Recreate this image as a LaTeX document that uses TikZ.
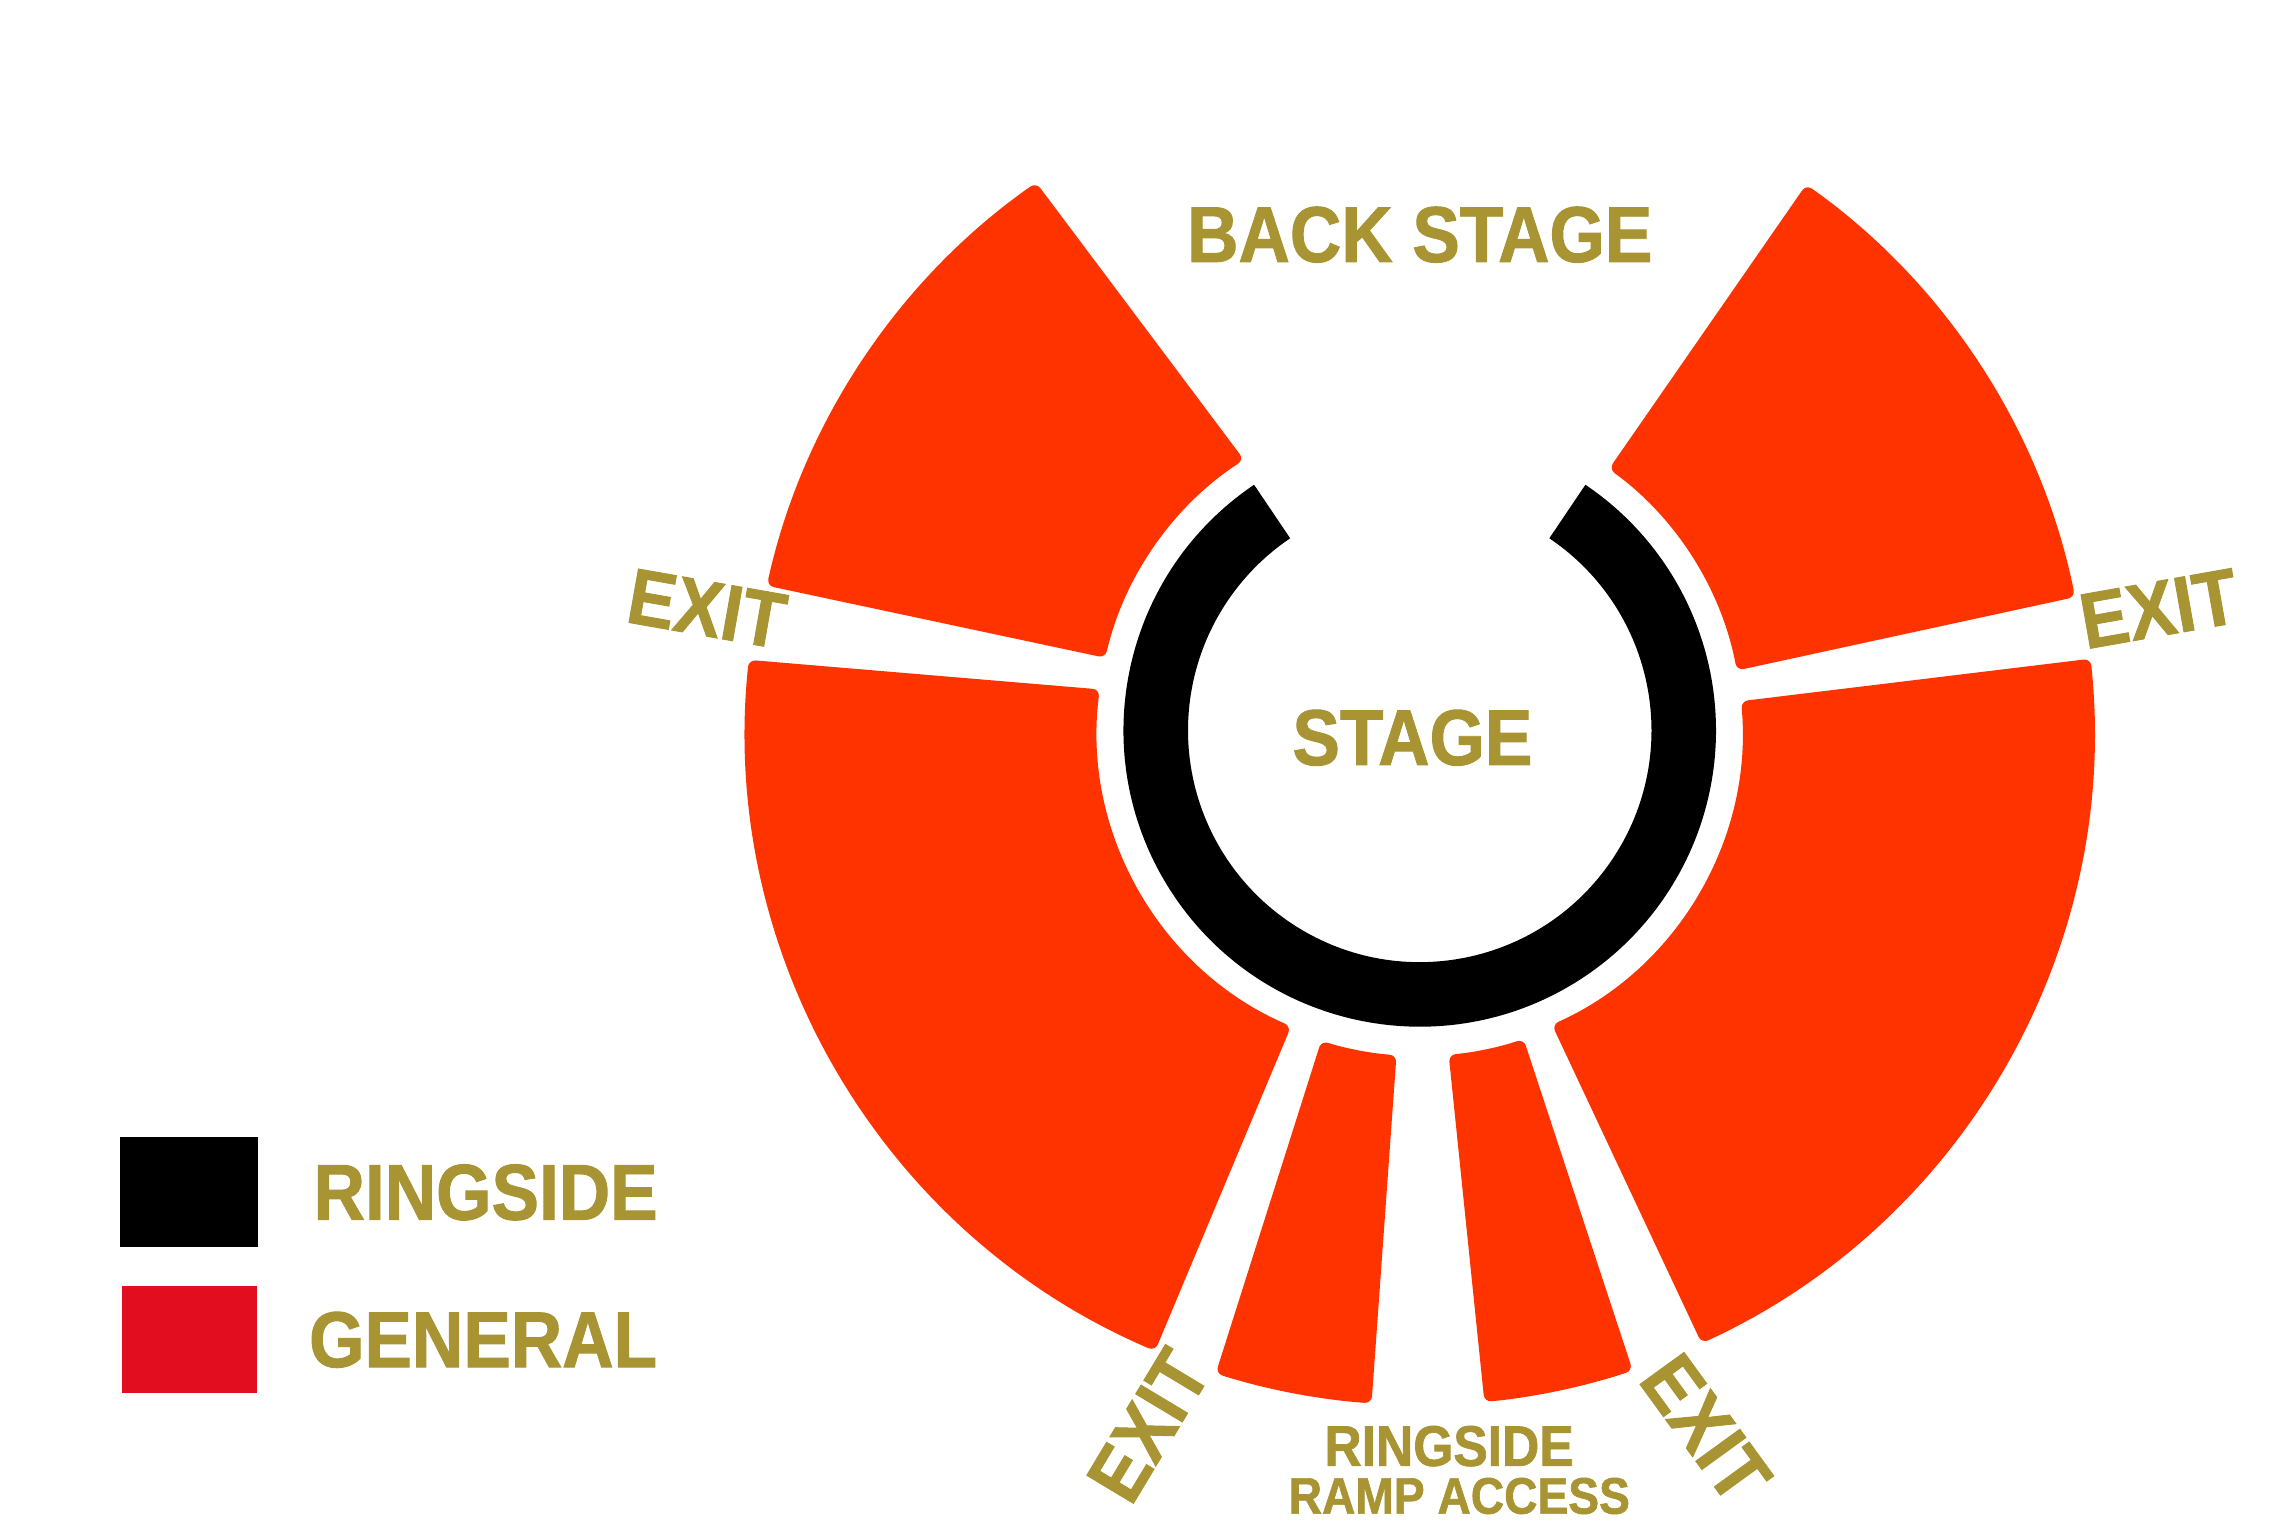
\documentclass[tikz,border=0pt]{standalone}
\usepackage{fontspec}
\setmainfont{Liberation Sans}
\newfontfamily\labelfont{Liberation Sans Bold}[FakeStretch=0.9, FakeBold=1.2]
\usetikzlibrary{positioning}

\definecolor{seatred}{HTML}{FF3300}
\definecolor{legendred}{HTML}{E20D1F}
\definecolor{labelgold}{HTML}{A99433}

% inner radius, outer radius, inner start/end, outer start/end
\newcommand{\seatblock}[6]{%
  \fill[seat] (#3:#1) arc[start angle=#3, end angle=#4, radius=#1]
    -- (#6:#2) arc[start angle=#6, end angle=#5, radius=#2] -- cycle;}

\begin{document}
\begin{tikzpicture}[
                x=0.14667mm, y=0.14667mm,
                seat/.style={fill=seatred, rounded corners=2pt},
                label/.style={text=labelgold, inner sep=0, font=\labelfont\fontsize{22.5}{26}\selectfont},
                legendbox/.style={draw=none, minimum width=1.38cm, minimum height=1.1cm, inner sep=0}]

            \fill[white] (0,0) rectangle (1560,1040);
            \useasboundingbox (0,0) rectangle (1560,1040);

            % Salle
            \begin{scope}[shift={(968,542)}]
                \seatblock{220}{456}{123}{167}{125}{167.5}
                \seatblock{220}{456}{10.7}{54.1}{11.5}{54.7}
                \seatblock{220}{460}{172.7}{246.5}{174}{246.9}
                \seatblock{220}{460}{294.2}{365.2}{294.7}{366.1}
                \seatblock{222}{460}{252.4}{265.9}{252.4}{265.9}
                \seatblock{222}{460}{275.1}{288.6}{275.5}{288.4}

                % Ring
                \fill[black] (124:202) arc[start angle=124, end angle=416, radius=202]
                    -- (416:158) arc[start angle=416, end angle=124, radius=158] -- cycle;
            \end{scope}

            % Textes
            \node[label] (backstage) at (968,880) {BACK STAGE};
            \node[label] (stage) at (963,537) {STAGE};
            \node[label, rotate=-10] (exitleft) at (482,625) {EXIT};
            \node[label, rotate=10] (exitright) at (1472,625) {EXIT};
            \node[label, rotate=59] (exitbotleft) at (783,68) {EXIT};
            \node[label, rotate=-54] (exitbotright) at (1163,66) {EXIT};
            \node[label, font=\labelfont\fontsize{16.3}{19}\selectfont] (ramp1) at (988,54) {RINGSIDE};
            \node[label, font=\labelfont\fontsize{14.6}{17}\selectfont] (ramp2) at (995,20) {RAMP ACCESS};

            % Legende
            \node[legendbox, fill=black] (ringbox) at (129,227) {};
            \node[legendbox, fill=legendred, minimum width=1.35cm, minimum height=1.07cm] (genbox) at (129,126.5) {};
            \node[label, right=0.54cm of ringbox] (ringtext) {RINGSIDE};
            \node[label, right=0.51cm of genbox] (gentext) {GENERAL};

        \end{tikzpicture}
\end{document}
